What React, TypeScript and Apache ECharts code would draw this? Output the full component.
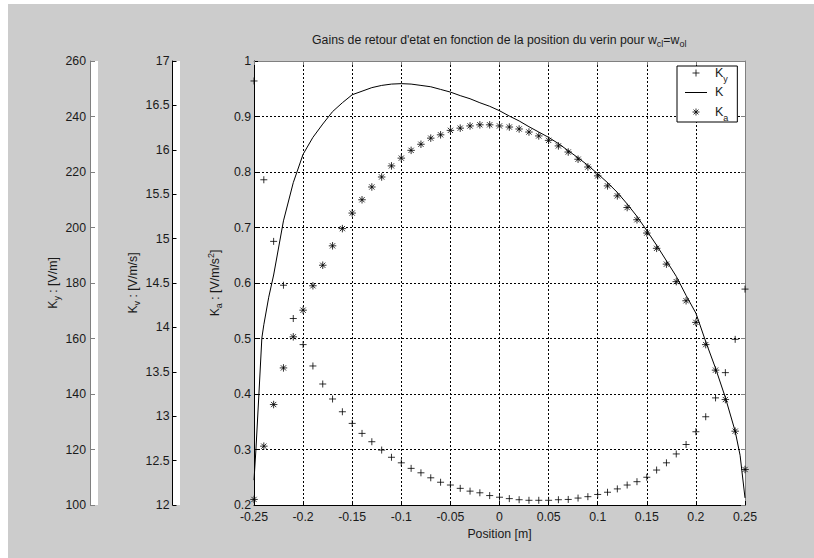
import React, { useEffect, useRef } from "react";
import * as echarts from "echarts";

// Positions of the sampled points [m]
const POSITIONS = [
  -0.25, -0.24, -0.23, -0.22, -0.21, -0.2, -0.19, -0.18, -0.17, -0.16,
  -0.15, -0.14, -0.13, -0.12, -0.11, -0.1, -0.09, -0.08, -0.07, -0.06,
  -0.05, -0.04, -0.03, -0.02, -0.01, 0, 0.01, 0.02, 0.03, 0.04,
  0.05, 0.06, 0.07, 0.08, 0.09, 0.1, 0.11, 0.12, 0.13, 0.14,
  0.15, 0.16, 0.17, 0.18, 0.19, 0.2, 0.21, 0.22, 0.23, 0.24, 0.25,
];

// Ky [V/m]
const KY = [
  252.8, 217.2, 195.0, 179.2, 167.2, 157.8, 150.1, 143.6, 138.2, 133.6,
  129.4, 125.8, 122.8, 119.8, 117.2, 115.2, 113.2, 111.6, 109.8, 108.2,
  107.2, 106.0, 105.0, 104.4, 103.4, 102.8, 102.3, 101.9, 101.7, 101.7,
  101.7, 101.9, 102.0, 102.5, 103.0, 103.8, 104.6, 105.8, 107.2, 108.4,
  110.0, 112.6, 115.2, 118.4, 121.8, 126.4, 131.8, 138.6, 147.7, 159.7, 177.8,
];

// Ka [V/m/s^2]
const KA = [
  0.21, 0.306, 0.381, 0.447, 0.503, 0.551, 0.595, 0.632, 0.667, 0.698,
  0.726, 0.75, 0.773, 0.791, 0.811, 0.825, 0.839, 0.85, 0.861, 0.867,
  0.875, 0.879, 0.883, 0.885, 0.885, 0.883, 0.881, 0.8775, 0.872, 0.865,
  0.857, 0.847, 0.836, 0.823, 0.809, 0.793, 0.775, 0.757, 0.736, 0.714,
  0.69, 0.6625, 0.634, 0.6025, 0.568, 0.529, 0.489, 0.443, 0.39, 0.333, 0.264,
];

// Kv [V/m/s] (solid curve)
const KV_POSITIONS = [
  -0.25, -0.248, -0.245, -0.242, -0.24, -0.235, -0.23, -0.22, -0.21, -0.2,
  -0.19, -0.18, -0.17, -0.16, -0.15, -0.14, -0.13, -0.12, -0.11, -0.1,
  -0.09, -0.08, -0.07, -0.06, -0.05, -0.04, -0.03, -0.02, -0.01, 0,
  0.01, 0.02, 0.03, 0.04, 0.05, 0.06, 0.07, 0.08, 0.09, 0.1,
  0.11, 0.12, 0.13, 0.14, 0.15, 0.16, 0.17, 0.18, 0.19, 0.2,
  0.21, 0.22, 0.23, 0.24, 0.245, 0.25,
];
const KV = [
  12.28, 12.63, 13.25, 13.88, 14.03, 14.34, 14.59, 15.2, 15.63, 15.95,
  16.14, 16.29, 16.43, 16.53, 16.62, 16.66, 16.7, 16.725, 16.74, 16.745,
  16.74, 16.725, 16.71, 16.68, 16.65, 16.61, 16.575, 16.53, 16.49, 16.44,
  16.38, 16.325, 16.26, 16.2, 16.14, 16.07, 15.99, 15.91, 15.825, 15.73,
  15.63, 15.52, 15.39, 15.25, 15.09, 14.925, 14.75, 14.575, 14.36, 14.16,
  13.84, 13.54, 13.21, 12.83, 12.56, 12.08,
];

const SERIES_NAMES = ["Ky", "Kv", "Ka"];
const LEGEND_SUBS = ["y", " ", "a"];
const TITLE = "Gains de retour d'etat en fonction de la position du verin pour w{sub|cl}=w{sub|ol}";
const X_NAME = "Position [m]";
const KY_NAME = "{k|K}{sub|y}{k| : [V/m]}";
const KV_NAME = "{k|K}{sub|v}{k| : [V/m/s]}";
const KA_NAME = "{k|K}{sub|a}{k| : [V/m/s}{sup|2}{k|]}";

const FONT = "'Liberation Sans', Arial, Helvetica, sans-serif";
const TEXT = "#1a1a1a";
const FS = 12.3;
const PLUS = "path://M0,5L10,5M5,0L5,10";
const STAR = "path://M5,0L5,10M0,5L10,5M1.5,1.5L8.5,8.5M1.5,8.5L8.5,1.5";
const DASH = "path://M0,0L22,0L22,1L0,1Z";

const rich = () => ({
  k: { fontFamily: FONT, fontSize: FS, color: TEXT, lineHeight: 14 },
  sub: { fontFamily: FONT, fontSize: 9, color: TEXT, lineHeight: 10, padding: [8, 0, 0, 0] },
  sup: { fontFamily: FONT, fontSize: 9, color: TEXT, lineHeight: 10, padding: [0, 0, 8, 0] },
});

const labelStyle = { fontFamily: FONT, fontSize: FS, color: TEXT };
const dotted = { show: true, lineStyle: { color: "#000", type: [2, 2], width: 1 } };
const markerStyle = { color: "rgba(0,0,0,0)", borderColor: "#000", borderWidth: 1 };

export default function App() {
  const ref = useRef<HTMLDivElement>(null);
  useEffect(() => {
    const chart = echarts.init(ref.current!, null, { renderer: "svg" });
    const option: any = {
      animation: false,
      backgroundColor: "#cccccc",
      textStyle: { fontFamily: FONT },
      title: {
        text: TITLE,
        left: 304,
        top: 30,
        padding: 0,
        textStyle: { fontFamily: FONT, fontSize: FS, fontWeight: "normal", color: TEXT, rich: rich() },
      },
      legend: {
        data: [
          { name: "Ky", icon: PLUS, itemStyle: markerStyle },
          { name: "Kv", icon: DASH, itemStyle: { color: "#000", borderWidth: 0 } },
          { name: "Ka", icon: STAR, itemStyle: markerStyle },
        ],
        orient: "vertical",
        left: 669,
        top: 62,
        padding: [0, 9, 0, 8],
        itemWidth: 22,
        itemHeight: 7,
        itemGap: 2.5,
        backgroundColor: "#fff",
        borderColor: "#000",
        borderWidth: 1,
        borderRadius: 0,
        selectedMode: false,
        symbolKeepAspect: true,
        itemStyle: { borderWidth: 1 },
        formatter: (n: string) => "{k|K}{sub|" + LEGEND_SUBS[SERIES_NAMES.indexOf(n)] + "}",
        textStyle: {
          fontFamily: FONT,
          fontSize: 12.5,
          color: TEXT,
          rich: {
            k: { fontFamily: FONT, fontSize: 12.5, color: TEXT, lineHeight: 14, verticalAlign: "top", padding: [0, 0, 0, 3] },
            sub: { fontFamily: FONT, fontSize: 9, color: TEXT, lineHeight: 10, padding: [8, 0, 0, 0], verticalAlign: "top" },
          },
        },
      },
      grid: [
        { left: 246, right: 69, top: 57, bottom: 53, show: true, backgroundColor: "#fff", borderWidth: 0 },
        { left: 82, width: 8, top: 57, bottom: 53, show: true, backgroundColor: "#fff", borderWidth: 0 },
        { left: 164.5, width: 7.5, top: 57, bottom: 53, show: true, backgroundColor: "#fff", borderWidth: 0 },
      ],
      xAxis: [
        {
          gridIndex: 0, type: "value", min: -0.25, max: 0.25, interval: 0.05, position: "bottom",
          name: X_NAME, nameLocation: "middle", nameGap: 20, nameTextStyle: labelStyle,
          axisLine: { onZero: false, lineStyle: { color: "#000" } },
          axisTick: { inside: true, length: 4, lineStyle: { color: "#000" } },
          axisLabel: { ...labelStyle, margin: 6 },
          splitLine: dotted,
        },
        {
          gridIndex: 0, type: "value", min: -0.25, max: 0.25, interval: 0.05, position: "top",
          axisLine: { onZero: false, lineStyle: { color: "#808080" } },
          axisTick: { inside: true, length: 4, lineStyle: { color: "#808080" } },
          axisLabel: { show: false },
          splitLine: { show: false },
        },
        { gridIndex: 1, type: "value", show: false },
        { gridIndex: 2, type: "value", show: false },
      ],
      yAxis: [
        {
          gridIndex: 0, type: "value", position: "left", min: 0.2, max: 1, interval: 0.1,
          name: KA_NAME, nameLocation: "middle", nameGap: 20,
          nameTextStyle: { ...labelStyle, rich: rich() },
          axisLine: { onZero: false, lineStyle: { color: "#000" } },
          axisTick: { inside: true, length: 4, lineStyle: { color: "#000" } },
          axisLabel: { ...labelStyle, margin: 3 },
          splitLine: dotted,
        },
        {
          gridIndex: 0, type: "value", position: "right", min: 0.2, max: 1, interval: 0.1,
          axisLine: { onZero: false, lineStyle: { color: "#808080" } },
          axisTick: { inside: true, length: 4, lineStyle: { color: "#808080" } },
          axisLabel: { show: false },
          splitLine: { show: false },
        },
        { gridIndex: 0, type: "value", min: 100, max: 260, show: false },
        { gridIndex: 0, type: "value", min: 12, max: 17, show: false },
        {
          gridIndex: 1, type: "value", position: "left", min: 100, max: 260, interval: 20,
          name: KY_NAME, nameLocation: "middle", nameGap: 25,
          nameTextStyle: { ...labelStyle, rich: rich() },
          axisLine: { onZero: false, lineStyle: { color: "#808080" } },
          axisTick: { inside: true, length: 5, lineStyle: { color: "#808080" } },
          axisLabel: { ...labelStyle, margin: 4 },
          splitLine: { show: false },
        },
        {
          gridIndex: 2, type: "value", position: "left", min: 12, max: 17, interval: 0.5,
          name: KV_NAME, nameLocation: "middle", nameGap: 30,
          nameTextStyle: { ...labelStyle, rich: rich() },
          axisLine: { onZero: false, lineStyle: { color: "#000" } },
          axisTick: { inside: true, length: 4, lineStyle: { color: "#000" } },
          axisLabel: { ...labelStyle, margin: 3 },
          splitLine: { show: false },
        },
      ],
      series: [
        {
          name: "Ky", type: "scatter", xAxisIndex: 0, yAxisIndex: 2,
          data: POSITIONS.map((x, i) => [x, KY[i]]),
          symbol: PLUS, symbolSize: 7,
          itemStyle: markerStyle,
          emphasis: { disabled: true },
        },
        {
          name: "Kv", type: "line", xAxisIndex: 0, yAxisIndex: 3,
          data: KV_POSITIONS.map((x, i) => [x, KV[i]]),
          symbol: "none", showSymbol: false,
          smooth: false,
          lineStyle: { color: "#000", width: 1 },
          itemStyle: { color: "#000" },
          emphasis: { disabled: true },
        },
        {
          name: "Ka", type: "scatter", xAxisIndex: 0, yAxisIndex: 0,
          data: POSITIONS.map((x, i) => [x, KA[i]]),
          symbol: STAR, symbolSize: 7.5,
          itemStyle: markerStyle,
          emphasis: { disabled: true },
        },
      ],
    };
    chart.setOption(option);
    return () => chart.dispose();
  }, []);
  return (
    <div
      ref={ref}
      style={{ position: "absolute", left: 8, top: 4, width: 806, height: 554 }}
    />
  );
}
